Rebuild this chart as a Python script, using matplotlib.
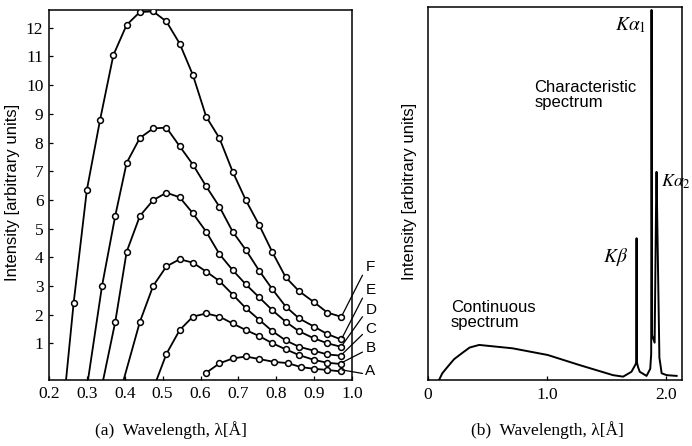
import matplotlib
matplotlib.use('Agg')
import matplotlib.pyplot as plt

plt.rcParams['mathtext.fontset'] = 'stix'

SERIF = 'Liberation Serif'
SANS = 'Liberation Sans'

# ---------------- panel (a): intensity vs wavelength at several voltages
curve_labels = ['A', 'B', 'C', 'D', 'E', 'F']

F_x = [0.265, 0.30, 0.335, 0.37, 0.405, 0.44, 0.475, 0.51, 0.545, 0.58, 0.615, 0.65,
       0.685, 0.72, 0.755, 0.79, 0.825, 0.86, 0.90, 0.935, 0.97]
F_y = [2.4, 6.35, 8.8, 11.05, 12.1, 12.55, 12.57, 12.22, 11.45, 10.35, 8.9, 8.15,
       6.98, 5.98, 5.12, 4.17, 3.3, 2.82, 2.43, 2.07, 1.93]

E_x = [0.34, 0.375, 0.405, 0.44, 0.475, 0.51, 0.545, 0.58, 0.615, 0.65, 0.685, 0.72,
       0.755, 0.79, 0.825, 0.86, 0.90, 0.935, 0.97]
E_y = [3.0, 5.45, 7.29, 8.16, 8.49, 8.52, 7.87, 7.23, 6.47, 5.76, 4.89, 4.25,
       3.53, 2.88, 2.28, 1.87, 1.58, 1.32, 1.14]

D_x = [0.375, 0.405, 0.44, 0.475, 0.51, 0.545, 0.58, 0.615, 0.65, 0.685, 0.72, 0.755,
       0.79, 0.825, 0.86, 0.90, 0.935, 0.97]
D_y = [1.75, 4.19, 5.44, 5.99, 6.25, 6.09, 5.53, 4.89, 4.11, 3.55, 3.05, 2.6,
       2.15, 1.75, 1.42, 1.17, 1.0, 0.88]

C_x = [0.44, 0.475, 0.51, 0.545, 0.58, 0.615, 0.65, 0.685, 0.72, 0.755, 0.79, 0.825,
       0.86, 0.90, 0.935, 0.97]
C_y = [1.75, 3.0, 3.68, 3.93, 3.81, 3.5, 3.17, 2.7, 2.22, 1.82, 1.42, 1.1,
       0.88, 0.74, 0.61, 0.57]

B_x = [0.51, 0.545, 0.58, 0.615, 0.65, 0.685, 0.72, 0.755, 0.79, 0.825, 0.86, 0.90,
       0.935, 0.97]
B_y = [0.63, 1.46, 1.93, 2.04, 1.93, 1.69, 1.46, 1.25, 1.0, 0.79, 0.59, 0.42,
       0.32, 0.28]

A_x = [0.615, 0.65, 0.685, 0.72, 0.755, 0.795, 0.83, 0.865, 0.90, 0.935, 0.97]
A_y = [-0.03, 0.30, 0.47, 0.54, 0.45, 0.35, 0.31, 0.17, 0.11, 0.07, 0.02]

# wavelength where each curve meets the x axis (None: curve starts at a point)
start_x = [None, 0.484, 0.397, 0.343, 0.303, 0.245]

a_xticks = [0.2, 0.3, 0.4, 0.5, 0.6, 0.7, 0.8, 0.9, 1.0]
a_xticklabels = ['0.2', '0.3', '0.4', '0.5', '0.6', '0.7', '0.8', '0.9', '1.0']
a_yticks = [1, 2, 3, 4, 5, 6, 7, 8, 9, 10, 11, 12]

# ---------------- panel (b): continuous + characteristic spectrum
spec_x = [0.093, 0.12, 0.177, 0.22, 0.29, 0.35, 0.43, 0.71, 1.007, 1.274, 1.555, 1.64,
          1.71, 1.745, 1.751, 1.753, 1.755, 1.765, 1.78, 1.837, 1.868, 1.876, 1.879,
          1.884, 1.905, 1.918, 1.921, 1.926, 1.945, 1.964, 2.006, 2.09]
spec_y = [0.0, 1.8, 4.0, 5.6, 7.3, 8.7, 9.4, 8.5, 6.7, 4.0, 1.3, 0.9,
          2.2, 4.2, 5.0, 38.0, 5.0, 3.5, 2.2, 1.1, 3.0, 7.0, 99.2,
          12.0, 10.0, 50.0, 55.8, 45.0, 6.0, 1.8, 1.3, 1.1]
b_xticks = [0, 1.0, 2.0]
b_xticklabels = ['0', '1.0', '2.0']

# ---------------- figure
fig = plt.figure(figsize=(6.92, 4.46), dpi=100)
Y_BASE = -0.28
ax = fig.add_axes([49 / 692, 1 - 380 / 446, 303 / 692, 370 / 446])
ax.set_xlim(0.2, 1.0)
ax.set_ylim(Y_BASE, 12.62)

curves_x = [A_x, B_x, C_x, D_x, E_x, F_x]
curves_y = [A_y, B_y, C_y, D_y, E_y, F_y]
for xs, ys, x0 in zip(curves_x, curves_y, start_x):
    lx = list(xs)
    ly = list(ys)
    if x0 is not None:
        lx = [x0] + lx
        ly = [Y_BASE] + ly
    ax.plot(lx, ly, color='black', lw=1.3, zorder=2)
    ax.plot(xs, ys, linestyle='none', marker='o', ms=4.2, mfc='white',
            mec='black', mew=1.1, zorder=3)

# curve letters with leader lines outside the frame
label_y = [0.03, 0.84, 1.50, 2.16, 2.86, 3.66]
for name, xs, ys, ly in zip(curve_labels, curves_x, curves_y, label_y):
    ax.annotate(name, xy=(xs[-1] + 0.004, ys[-1] + 0.05), xytext=(1.035, ly),
                textcoords='data', annotation_clip=False,
                fontsize=11, family=SANS, ha='left', va='center',
                arrowprops=dict(arrowstyle='-', lw=0.9, color='black',
                                shrinkA=0, shrinkB=0, relpos=(0.0, 0.3)))

ax.set_xticks(a_xticks)
ax.set_xticklabels(a_xticklabels, family=SERIF, fontsize=12.5)
ax.set_yticks(a_yticks)
ax.set_yticklabels([str(v) for v in a_yticks], family=SERIF, fontsize=12.5)
ax.tick_params(direction='in', length=3, width=0.9, pad=4)
for s in ax.spines.values():
    s.set_linewidth(1.1)

fig.text(13 / 692, 1 - 192 / 446, 'Intensity [arbitrary units]', rotation=90,
         ha='center', va='center', family=SANS, fontsize=12)
fig.text(171 / 692, 1 - 430 / 446, '(a)  Wavelength, \u03bb[\u00c5]',
         ha='center', va='center', family=SERIF, fontsize=12.5)

# panel (b)
bx = fig.add_axes([428 / 692, 1 - 380 / 446, 254 / 692, 373 / 446])
bx.set_xlim(0, 2.135)
bx.set_ylim(0, 100)
bx.plot(spec_x, spec_y, color='black', lw=1.4)
bx.set_xticks(b_xticks)
bx.set_xticklabels(b_xticklabels, family=SERIF, fontsize=12.5)
bx.set_yticks([])
bx.tick_params(axis='x', direction='in', length=3, width=0.9, pad=5)
for s in bx.spines.values():
    s.set_linewidth(1.1)

bx.text(1.705, 95.2, r'$K\alpha_1$', ha='center', va='center', fontsize=14)
bx.text(1.955, 53.1, r'$K\alpha_2$', ha='left', va='center', fontsize=13, clip_on=False)
bx.text(1.574, 33.0, r'$K\beta$', ha='center', va='center', fontsize=14)
bx.text(0.895, 76.4, 'Characteristic\nspectrum', ha='left', va='center',
        family=SANS, fontsize=12, linespacing=1.0)
bx.text(0.194, 17.4, 'Continuous\nspectrum', ha='left', va='center',
        family=SANS, fontsize=12, linespacing=1.0)

fig.text(410 / 692, 1 - 191 / 446, 'Intensity [arbitrary units]', rotation=90,
         ha='center', va='center', family=SANS, fontsize=12)
fig.text(547 / 692, 1 - 430 / 446, '(b)  Wavelength, \u03bb[\u00c5]',
         ha='center', va='center', family=SERIF, fontsize=12.5)

fig.savefig('out.png', dpi=100)
